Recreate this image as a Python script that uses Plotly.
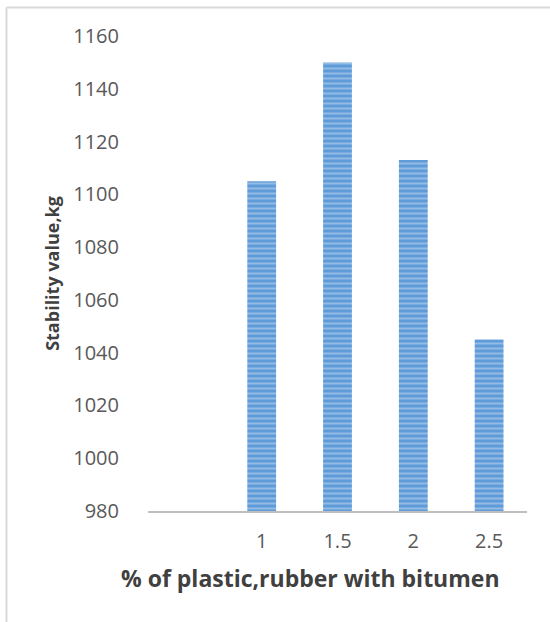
import plotly.graph_objects as go

# Bitumen modifier content (%) and Marshall stability (kg)
modifier_pct = [1, 1.5, 2, 2.5]
stability_kg = [1105, 1150, 1113, 1045]
x_tick_labels = ["1", "1.5", "2", "2.5"]
y_ticks = [980, 1000, 1020, 1040, 1060, 1080, 1100, 1120, 1140, 1160]
x_title = "% of plastic,rubber with bitumen"
y_title = "Stability value,kg"

FONT = "Open Sans"

fig = go.Figure(
    go.Bar(
        x=modifier_pct,
        y=stability_kg,
        width=0.19,
        marker=dict(
            color="#5b9bd5",
            line=dict(width=0),
            pattern=dict(
                shape="-",
                size=5,
                solidity=0.4,
                fgcolor="#c6dbf2",
                bgcolor="#5f9bd8",
                fillmode="overlay",
            ),
        ),
        hoverinfo="x+y",
    )
)

fig.update_layout(
    width=550,
    height=622,
    margin=dict(l=148, r=23, t=36, b=111),
    paper_bgcolor="white",
    plot_bgcolor="white",
    showlegend=False,
    font=dict(family=FONT, color="#595959"),
    xaxis=dict(
        range=[0.25, 2.75],
        tickvals=modifier_pct,
        ticktext=x_tick_labels,
        tickfont=dict(size=20, color="#595959"),
        showgrid=False,
        zeroline=False,
        showline=True,
        linecolor="#bfbfbf",
        linewidth=2,
        ticks="",
        ticklabelstandoff=11,
        fixedrange=True,
    ),
    yaxis=dict(
        range=[980, 1160],
        tickvals=y_ticks,
        tickfont=dict(size=20, color="#595959"),
        showgrid=False,
        zeroline=False,
        showline=False,
        ticks="",
        ticklabelstandoff=28,
        title=dict(
            text=f"<b>{y_title}</b>",
            font=dict(size=18, color="#404040"),
            standoff=8,
        ),
        fixedrange=True,
    ),
)

# Horizontal axis title, centred on the whole chart area
fig.add_annotation(
    text=f"<b>{x_title}</b>",
    xref="paper", yref="paper",
    x=0.43, y=-0.141,
    xanchor="center", yanchor="middle",
    showarrow=False,
    font=dict(family=FONT, size=23, color="#404040"),
)

# Light chart-area frame (left and top edges)
frame = dict(color="#d9d9d9", width=2)
fig.add_shape(type="line", xref="paper", yref="paper",
              x0=-0.3734, x1=-0.3734, y0=-0.25, y1=1.06, line=frame)
fig.add_shape(type="line", xref="paper", yref="paper",
              x0=-0.3734, x1=1.08, y0=1.06, y1=1.06, line=frame)

fig.write_html("out.html")
